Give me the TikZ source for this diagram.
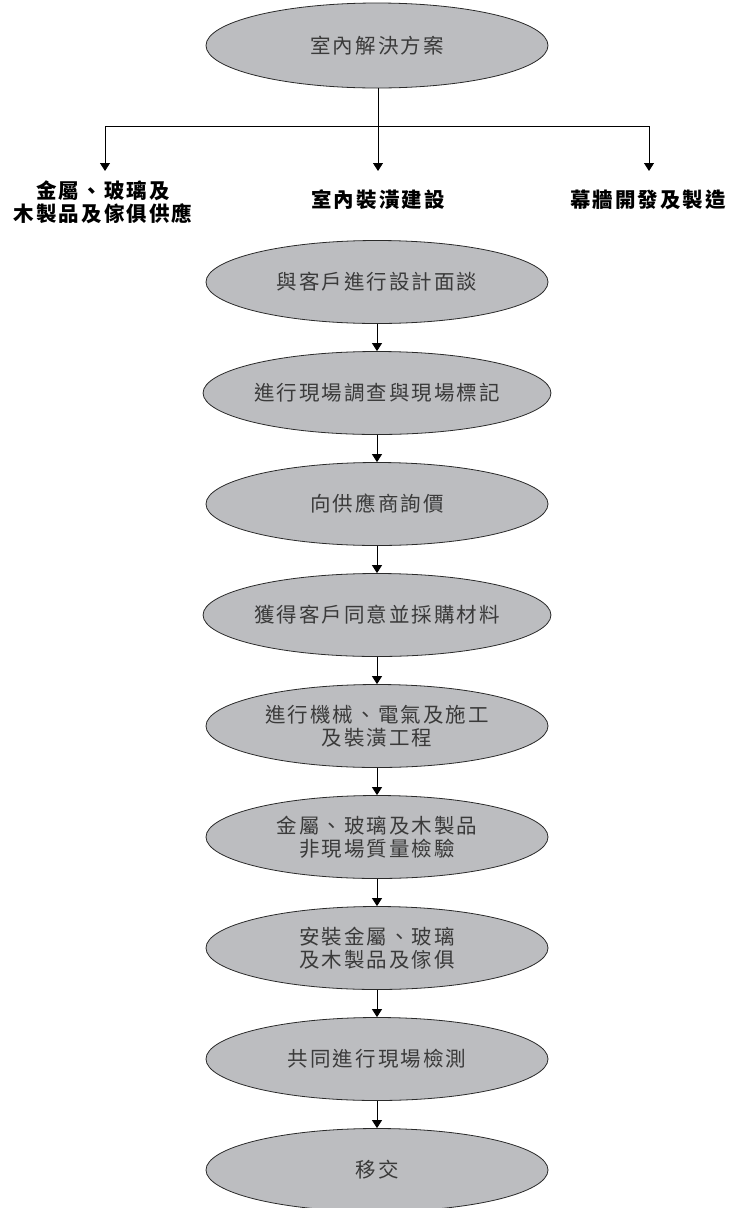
\documentclass[tikz,border=0pt]{standalone}
\usepackage{fontspec}
\usetikzlibrary{shapes.geometric,arrows.meta}
\newfontfamily\cjk[LetterSpace=10]{Noto Sans CJK TC}
\definecolor{ellfill}{HTML}{BCBDC0}
\definecolor{elltext}{HTML}{3A3A3A}
\definecolor{edge}{HTML}{2A2A2A}
\tikzset{
  stepell/.style={ellipse, draw=edge, line width=0.8pt, fill=ellfill,
    minimum width=342pt, minimum height=83pt, inner sep=0pt,
    align=center, text=elltext, font=\cjk\fontsize{20.5}{23}\selectfont},
  branchlbl/.style={align=center, inner sep=0pt, text=black,
    font=\cjk\bfseries\fontsize{20.5}{23}\selectfont},
  arr/.style={draw=black, line width=0.8pt, -{Triangle[width=10pt,length=8pt]}},
  plain/.style={draw=black, line width=0.8pt}
}
\begin{document}
\begin{tikzpicture}[x=1pt,y=-1pt]
\useasboundingbox (0,0) rectangle (732,1208);
\fill[white] (0,0) rectangle (732,1208);

\node[stepell, minimum height=85pt] (e1) at (377,45.5) {室內解決方案};

\coordinate (jc) at (378,126);
\coordinate (jl) at (105,126);
\coordinate (jr) at (649,126);
\coordinate (tl) at (105,171);
\coordinate (tc) at (378,171);
\coordinate (tr) at (649,171);

\node[branchlbl] (l1) at (103,202) {金屬、玻璃及\\木製品及傢俱供應};
\node[branchlbl] (l2) at (378,200) {室內裝潢建設};
\node[branchlbl] (l3) at (648,200) {幕牆開發及製造};

\draw[plain] (e1.south -| jc) -- (jc);
\draw[plain] (jl) -- (jr);
\draw[arr] (jl) -- (tl);
\draw[arr] (jc) -- (tc);
\draw[arr] (jr) -- (tr);

\node[stepell] (e2) at (377,282) {與客戶進行設計面談};
\node[stepell] (e3) at (377,393) {進行現場調查與現場標記};
\node[stepell] (e4) at (377,504) {向供應商詢價};
\node[stepell] (e5) at (377,615) {獲得客戶同意並採購材料};
\node[stepell] (e6) at (377,726) {進行機械、電氣及施工\\及裝潢工程};
\node[stepell] (e7) at (377,837) {金屬、玻璃及木製品\\非現場質量檢驗};
\node[stepell] (e8) at (377,948) {安裝金屬、玻璃\\及木製品及傢俱};
\node[stepell] (e9) at (377,1059) {共同進行現場檢測};
\node[stepell] (e10) at (377,1170) {移交};

\draw[arr] (e2.south) -- (e3.north);
\draw[arr] (e3.south) -- (e4.north);
\draw[arr] (e4.south) -- (e5.north);
\draw[arr] (e5.south) -- (e6.north);
\draw[arr] (e6.south) -- (e7.north);
\draw[arr] (e7.south) -- (e8.north);
\draw[arr] (e8.south) -- (e9.north);
\draw[arr] (e9.south) -- (e10.north);
\end{tikzpicture}
\end{document}
